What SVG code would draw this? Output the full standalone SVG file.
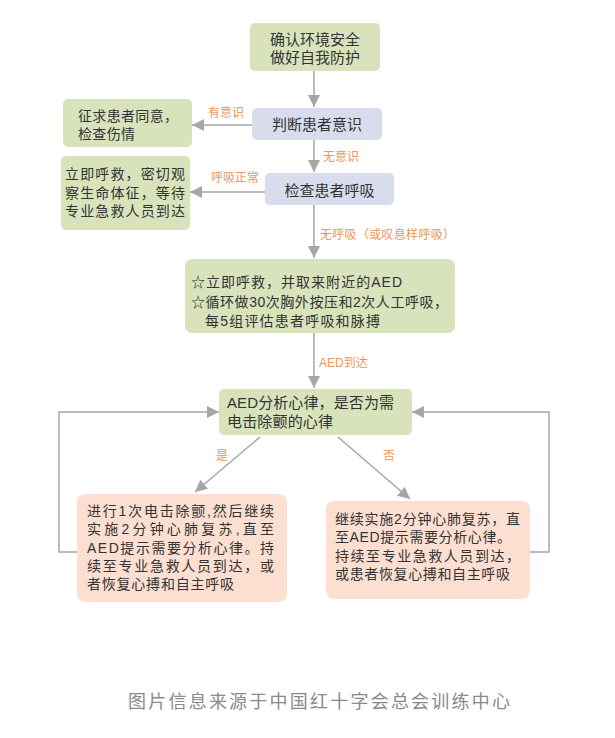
<svg xmlns="http://www.w3.org/2000/svg" width="615" height="738" viewBox="0 0 615 738">
<style>
text{font-family:"Liberation Sans","Noto Sans CJK SC",sans-serif;fill:#333;}
.g{fill:#d8e2bb;}
.p{fill:#d9dcec;}
.k{fill:#fcdfd1;}
.t15{font-size:15px;}
.t14{font-size:14px;}
.lb{font-size:12px;fill:#e8975a;}
.c{fill:none;stroke:#a6a6a6;stroke-width:1.5;}
.ft{font-size:18px;fill:#8a8a8a;}
</style>
<defs>
<marker id="ah" markerUnits="userSpaceOnUse" markerWidth="12" markerHeight="12" refX="12" refY="6" orient="auto" viewBox="0 0 12 12">
<path d="M0,0 L12,6 L0,12 z" fill="#a6a6a6"/>
</marker>
</defs>
<rect width="615" height="738" fill="#ffffff"/>

<g id="connectors">
<path class="c" d="M314,71 V107" marker-end="url(#ah)"/>
<path class="c" d="M252,125 H192" marker-end="url(#ah)"/>
<path class="c" d="M314,140 V172" marker-end="url(#ah)"/>
<path class="c" d="M265,192 H190" marker-end="url(#ah)"/>
<path class="c" d="M314,205 V258" marker-end="url(#ah)"/>
<path class="c" d="M314,333 V388" marker-end="url(#ah)"/>
<path class="c" d="M260,437 L195,492" marker-end="url(#ah)"/>
<path class="c" d="M338,437 L410,499" marker-end="url(#ah)"/>
<path class="c" d="M77,552 H59 V412 H219" marker-end="url(#ah)"/>
<path class="c" d="M530,552 H549 V412 H412" marker-end="url(#ah)"/>
<text class="lb" x="208" y="117">有意识</text>
<text class="lb" x="323" y="161">无意识</text>
<text class="lb" x="211" y="182">呼吸正常</text>
<text class="lb" x="320" y="239" textLength="135" lengthAdjust="spacing">无呼吸（或叹息样呼吸）</text>
<text class="lb" x="319" y="367">AED到达</text>
<text class="lb" x="216" y="460">是</text>
<text class="lb" x="383" y="460">否</text>
</g>

<g id="n1">
<rect class="g" x="250" y="23" width="130" height="48" rx="5"/>
<text class="t15" text-anchor="middle"><tspan x="315" y="45">确认环境安全</tspan><tspan x="315" y="63">做好自我防护</tspan></text>
</g>

<g id="n2">
<rect class="p" x="252" y="108" width="130" height="32" rx="5"/>
<text class="t15" x="317" y="130" text-anchor="middle">判断患者意识</text>
</g>

<g id="n3">
<rect class="g" x="63" y="99" width="129" height="48" rx="5"/>
<text class="t14"><tspan x="78" y="121" textLength="100" lengthAdjust="spacing">征求患者同意，</tspan><tspan x="78" y="139" textLength="57" lengthAdjust="spacing">检查伤情</tspan></text>
</g>

<g id="n4">
<rect class="p" x="265" y="173" width="129" height="32" rx="5"/>
<text class="t15" x="329.5" y="196" text-anchor="middle">检查患者呼吸</text>
</g>

<g id="n5">
<rect class="g" x="61" y="156" width="129" height="74" rx="5"/>
<text class="t14"><tspan x="65" y="179" textLength="120" lengthAdjust="spacing">立即呼救，密切观</tspan><tspan x="65" y="198" textLength="120" lengthAdjust="spacing">察生命体征，等待</tspan><tspan x="65" y="216" textLength="120" lengthAdjust="spacing">专业急救人员到达</tspan></text>
</g>

<g id="n6">
<rect class="g" x="185" y="259" width="270" height="74" rx="7"/>
<text class="t14"><tspan x="191" y="287" textLength="211" lengthAdjust="spacing">☆立即呼救，并取来附近的AED</tspan><tspan x="191" y="307" textLength="257" lengthAdjust="spacing">☆循环做30次胸外按压和2次人工呼吸，</tspan><tspan x="205" y="326" textLength="175" lengthAdjust="spacing">每5组评估患者呼吸和脉搏</tspan></text>
</g>

<g id="n7">
<rect class="g" x="219" y="389" width="193" height="46" rx="5"/>
<text class="t15"><tspan x="227" y="408" textLength="167" lengthAdjust="spacing">AED分析心律，是否为需</tspan><tspan x="227" y="427" textLength="106" lengthAdjust="spacing">电击除颤的心律</tspan></text>
</g>

<g id="n8">
<rect class="k" x="77" y="494" width="210" height="108" rx="8"/>
<text class="t14"><tspan x="87" y="516" textLength="187" lengthAdjust="spacing">进行1次电击除颤,然后继续</tspan><tspan x="87" y="534" textLength="187" lengthAdjust="spacing">实施2分钟心肺复苏,直至</tspan><tspan x="87" y="553" textLength="187" lengthAdjust="spacing">AED提示需要分析心律。持</tspan><tspan x="87" y="571" textLength="187" lengthAdjust="spacing">续至专业急救人员到达，或</tspan><tspan x="87" y="589" textLength="147" lengthAdjust="spacing">者恢复心搏和自主呼吸</tspan></text>
</g>

<g id="n9">
<rect class="k" x="326" y="501" width="204" height="98" rx="8"/>
<text class="t14"><tspan x="335" y="524" textLength="185" lengthAdjust="spacing">继续实施2分钟心肺复苏，直</tspan><tspan x="335" y="542" textLength="176" lengthAdjust="spacing">至AED提示需要分析心律。</tspan><tspan x="335" y="561" textLength="185" lengthAdjust="spacing">持续至专业急救人员到达，</tspan><tspan x="335" y="579" textLength="175" lengthAdjust="spacing">或患者恢复心搏和自主呼吸</tspan></text>
</g>

<text class="ft" x="128" y="708" textLength="382" lengthAdjust="spacing">图片信息来源于中国红十字会总会训练中心</text>
</svg>
